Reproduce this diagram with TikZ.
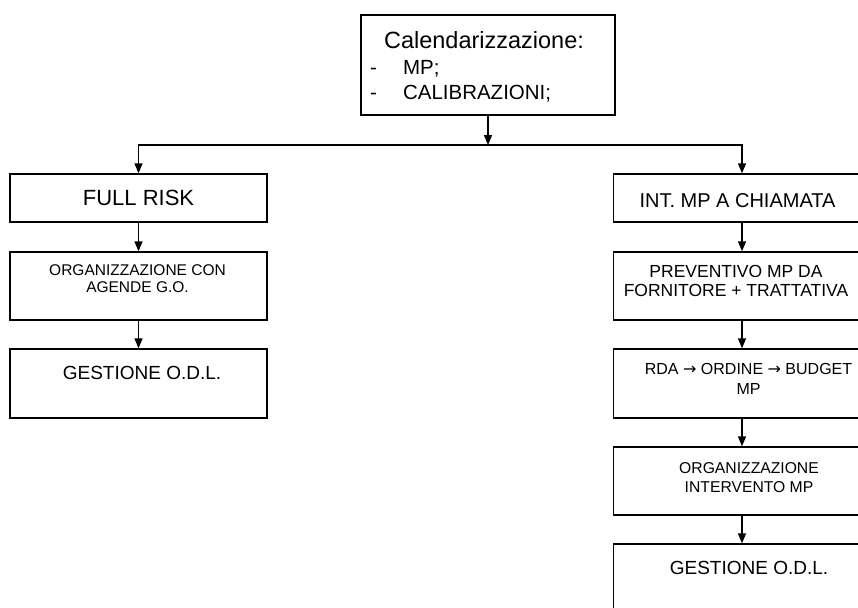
\documentclass[tikz,border=0pt]{standalone}
\usepackage{fontspec}
\setmainfont{Liberation Sans}
\newfontfamily\arrfont{DejaVu Sans}
\usetikzlibrary{arrows.meta,positioning}
\newcommand{\fsz}[2]{\fontsize{#1pt}{#2pt}\selectfont}
\newcommand{\toarr}{{\arrfont →}}

\begin{document}
\begin{tikzpicture}
[x=1pt,y=-1pt,
 box/.style={draw,line width=1.4pt,minimum width=257pt,inner sep=0pt},
 txt/.style={inner sep=0pt,align=center},
 arr/.style={-{Triangle[length=10pt,width=8pt]},line width=1.4pt}]
\useasboundingbox (0,0) rectangle (858,607);
\fill[white] (0,0) rectangle (858,607);
\clip (0,0) rectangle (858,607);
% top box
\node[box,minimum width=254pt,minimum height=100pt] (cal) at (488,65) {};
\node[txt,anchor=base,font=\fsz{23.5}{28}] (caltitle) at (484,48.4) {Calendarizzazione:};
\node[txt,anchor=base west,font=\fsz{20.5}{25.5}] (callist) at (370,74.3)
  {\begin{tabular}[t]{@{}l@{\hspace{26pt}}l@{}}-&MP;\\-&CALIBRAZIONI;\end{tabular}};
% left column
\node[box,minimum height=48pt] (fr) at (138.5,198) {};
\node[box,minimum height=68pt] (org) at (138.5,286) {};
\node[box,minimum height=69pt] (ges) at (138.5,383.5) {};
\node[txt,anchor=base,font=\fsz{22}{26}] (frtext) at (138.5,205.4) {FULL RISK};
\node[txt,anchor=north,font=\fsz{15.5}{17}] (orgtext) at (137.5,264.5) {ORGANIZZAZIONE CON\\AGENDE G.O.};
\node[txt,anchor=base,font=\fsz{19}{23}] (gestext) at (142,379) {GESTIONE O.D.L.};
% right column
\node[box,minimum height=48pt] (int) at (742,198) {};
\node[box,minimum height=68pt] (prev) at (742,286) {};
\node[box,minimum height=69pt] (rda) at (742,383.5) {};
\node[box,minimum height=68pt] (orgint) at (742,481) {};
\node[box,minimum height=69pt] (ges2) at (742,578.5) {};
\node[txt,anchor=base,font=\fsz{20}{24}] (inttext) at (737.5,207) {INT. MP A CHIAMATA};
\node[txt,anchor=north,font=\fsz{17.5}{19}] (prevtext) at (736,265.5) {PREVENTIVO MP DA\\FORNITORE + TRATTATIVA};
\node[txt,anchor=north,font=\fsz{16}{20}] (rdatext) at (748.5,363) {RDA \toarr{} ORDINE \toarr{} BUDGET\\MP};
\node[txt,anchor=north,font=\fsz{15.7}{19}] (orginttext) at (749,462.4) {ORGANIZZAZIONE\\INTERVENTO MP};
\node[txt,anchor=base,font=\fsz{19}{23}] (ges2text) at (749,574) {GESTIONE O.D.L.};
% connectors
\coordinate (split) at (488,145);
\draw[arr] (cal) -- (split);
\draw[arr] (split) -| (fr);
\draw[arr] (split) -| (int);
\draw[arr] (fr) -- (org);
\draw[arr] (org) -- (ges);
\draw[arr] (int) -- (prev);
\draw[arr] (prev) -- (rda);
\draw[arr] (rda) -- (orgint);
\draw[arr] (orgint) -- (ges2);
\end{tikzpicture}
\end{document}
